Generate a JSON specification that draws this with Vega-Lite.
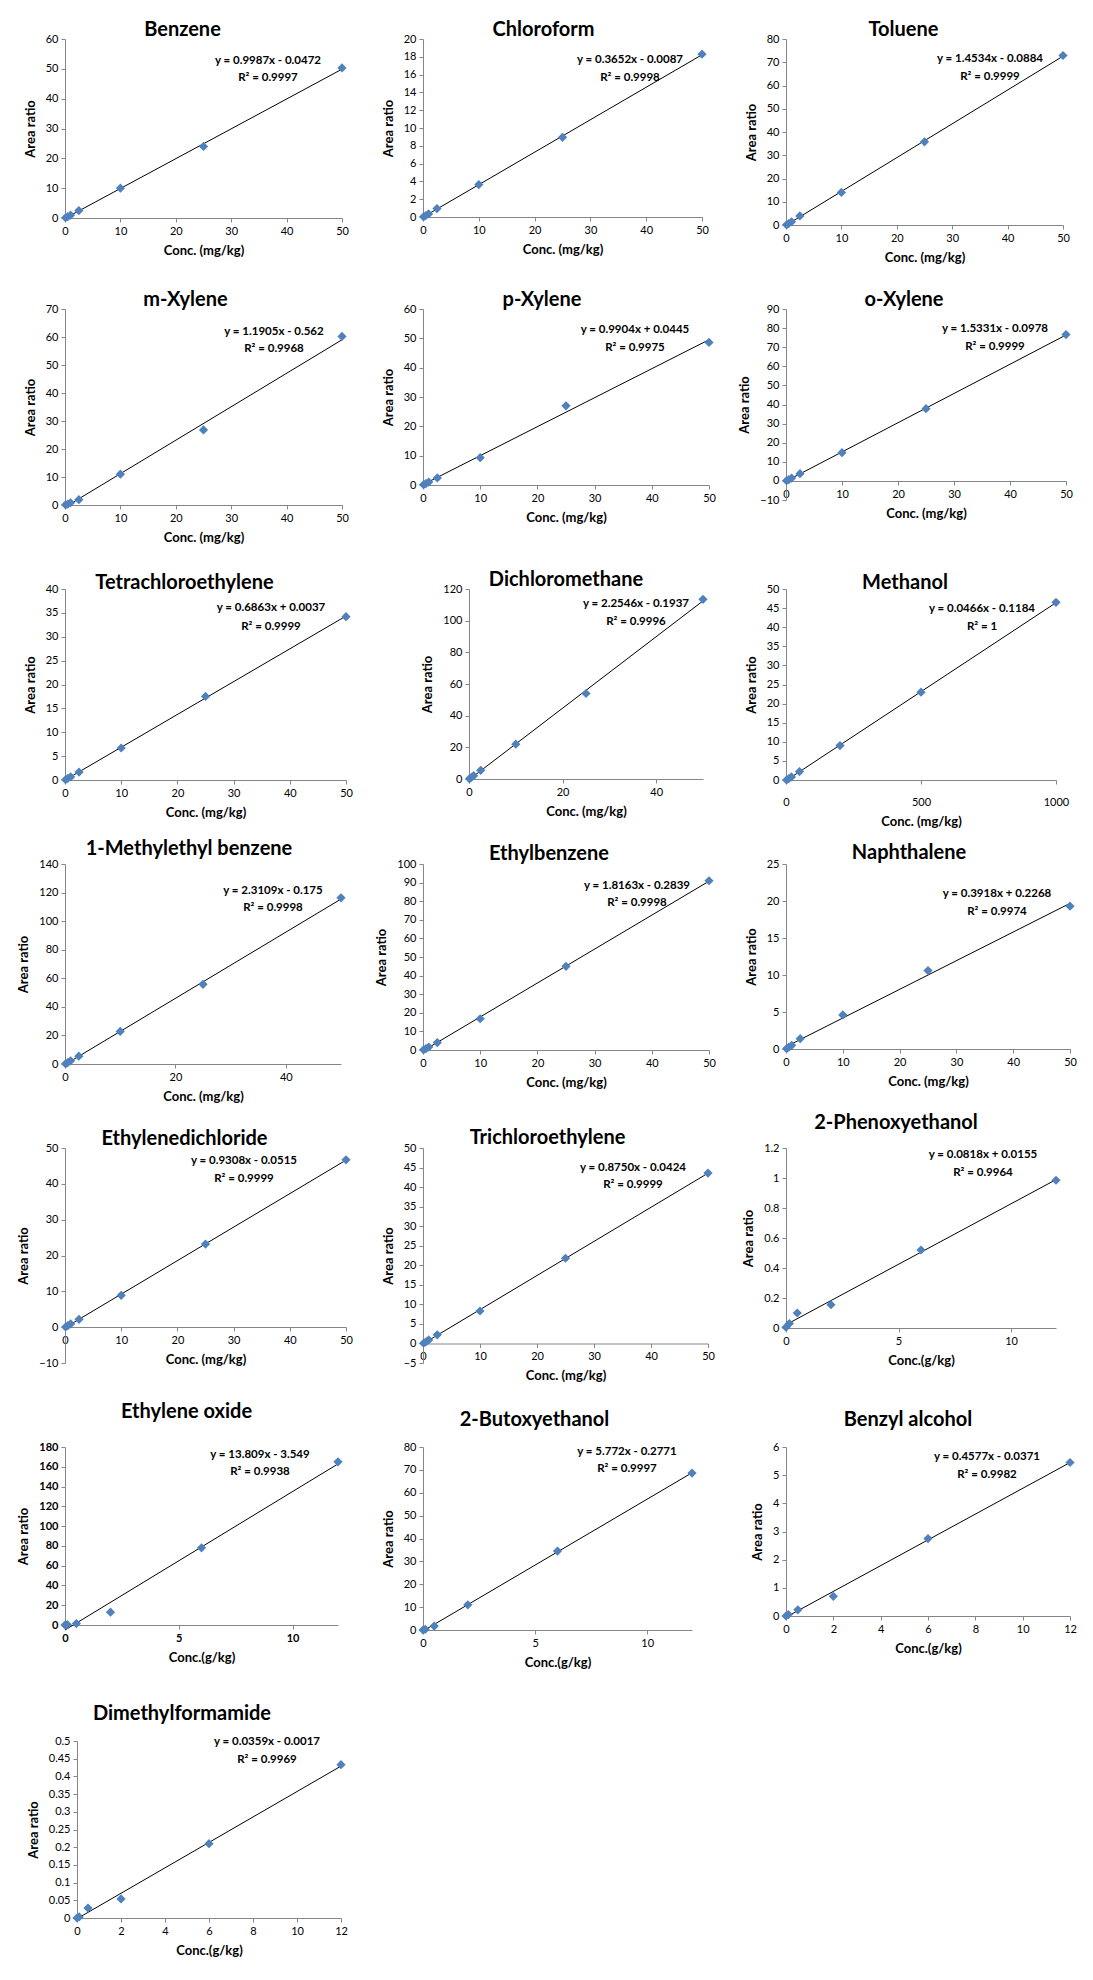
{
"$schema": "https://vega.github.io/schema/vega-lite/v6.json",
"padding": {"left": 17, "top": 20, "right": 5, "bottom": 5},
"bounds": "full",
"spacing": 35,
"datasets": {
"benzene": [{"conc":0.1,"ratio":0.08},{"conc":0.5,"ratio":0.45},{"conc":1,"ratio":0.95},{"conc":2.5,"ratio":2.5},{"conc":10,"ratio":10.0},{"conc":25,"ratio":24.0},{"conc":50,"ratio":50.3}],
"chloroform": [{"conc":0.1,"ratio":0.02},{"conc":0.5,"ratio":0.17},{"conc":1,"ratio":0.35},{"conc":2.5,"ratio":0.95},{"conc":10,"ratio":3.65},{"conc":25,"ratio":8.95},{"conc":50,"ratio":18.3}],
"toluene": [{"conc":0.1,"ratio":0.1},{"conc":0.5,"ratio":0.65},{"conc":1,"ratio":1.4},{"conc":2.5,"ratio":3.9},{"conc":10,"ratio":14.0},{"conc":25,"ratio":35.8},{"conc":50,"ratio":72.9}],
"mxylene": [{"conc":0.1,"ratio":0.05},{"conc":0.5,"ratio":0.35},{"conc":1,"ratio":0.8},{"conc":2.5,"ratio":1.9},{"conc":10,"ratio":11.0},{"conc":25,"ratio":26.8},{"conc":50,"ratio":60.2}],
"pxylene": [{"conc":0.1,"ratio":0.1},{"conc":0.5,"ratio":0.5},{"conc":1,"ratio":1.0},{"conc":2.5,"ratio":2.4},{"conc":10,"ratio":9.3},{"conc":25,"ratio":27.0},{"conc":50,"ratio":48.6}],
"oxylene": [{"conc":0.1,"ratio":0.1},{"conc":0.5,"ratio":0.7},{"conc":1,"ratio":1.5},{"conc":2.5,"ratio":3.8},{"conc":10,"ratio":14.8},{"conc":25,"ratio":37.8},{"conc":50,"ratio":76.6}],
"tetrachloro": [{"conc":0.1,"ratio":0.05},{"conc":0.5,"ratio":0.35},{"conc":1,"ratio":0.65},{"conc":2.5,"ratio":1.65},{"conc":10,"ratio":6.7},{"conc":25,"ratio":17.5},{"conc":50,"ratio":34.2}],
"dichloromethane": [{"conc":0.1,"ratio":0.1},{"conc":0.5,"ratio":1.0},{"conc":1,"ratio":2.1},{"conc":2.5,"ratio":5.5},{"conc":10,"ratio":22.0},{"conc":25,"ratio":54.0},{"conc":50,"ratio":113.5}],
"methanol": [{"conc":2,"ratio":0.0},{"conc":10,"ratio":0.35},{"conc":20,"ratio":0.8},{"conc":50,"ratio":2.2},{"conc":200,"ratio":9.0},{"conc":500,"ratio":23.0},{"conc":1000,"ratio":46.5}],
"methylethyl": [{"conc":0.1,"ratio":0.1},{"conc":0.5,"ratio":1.0},{"conc":1,"ratio":2.2},{"conc":2.5,"ratio":5.5},{"conc":10,"ratio":22.8},{"conc":25,"ratio":55.8},{"conc":50,"ratio":116.3}],
"ethylbenzene": [{"conc":0.1,"ratio":0.1},{"conc":0.5,"ratio":0.7},{"conc":1,"ratio":1.6},{"conc":2.5,"ratio":4.0},{"conc":10,"ratio":16.8},{"conc":25,"ratio":45.0},{"conc":50,"ratio":91.0}],
"naphthalene": [{"conc":0.1,"ratio":0.05},{"conc":0.5,"ratio":0.25},{"conc":1,"ratio":0.5},{"conc":2.5,"ratio":1.4},{"conc":10,"ratio":4.6},{"conc":25,"ratio":10.6},{"conc":50,"ratio":19.3}],
"ethylenedichloride": [{"conc":0.1,"ratio":0.05},{"conc":0.5,"ratio":0.4},{"conc":1,"ratio":0.9},{"conc":2.5,"ratio":2.2},{"conc":10,"ratio":8.9},{"conc":25,"ratio":23.2},{"conc":50,"ratio":46.7}],
"trichloroethylene": [{"conc":0.1,"ratio":0.05},{"conc":0.5,"ratio":0.4},{"conc":1,"ratio":0.9},{"conc":2.5,"ratio":2.2},{"conc":10,"ratio":8.3},{"conc":25,"ratio":21.8},{"conc":50,"ratio":43.6}],
"phenoxyethanol": [{"conc":0,"ratio":0.005},{"conc":0.15,"ratio":0.03},{"conc":0.5,"ratio":0.1},{"conc":2,"ratio":0.155},{"conc":6,"ratio":0.52},{"conc":12,"ratio":0.985}],
"ethyleneoxide": [{"conc":0,"ratio":0.0},{"conc":0.1,"ratio":0.4},{"conc":0.5,"ratio":1.5},{"conc":2,"ratio":13.0},{"conc":6,"ratio":78.0},{"conc":12,"ratio":165.0}],
"butoxyethanol": [{"conc":0,"ratio":0.0},{"conc":0.1,"ratio":0.3},{"conc":0.5,"ratio":1.7},{"conc":2,"ratio":11.0},{"conc":6,"ratio":34.5},{"conc":12,"ratio":68.6}],
"benzylalcohol": [{"conc":0,"ratio":0.0},{"conc":0.1,"ratio":0.05},{"conc":0.5,"ratio":0.22},{"conc":2,"ratio":0.7},{"conc":6,"ratio":2.75},{"conc":12,"ratio":5.45}],
"dmf": [{"conc":0,"ratio":0.0},{"conc":0.1,"ratio":0.003},{"conc":0.5,"ratio":0.028},{"conc":2,"ratio":0.054},{"conc":6,"ratio":0.21},{"conc":12,"ratio":0.433}]
},
"vconcat": [
{"columns": 3, "align": "each", "bounds": "flush", "spacing": {"row": 84, "column": 77},
"concat": [
{"width":277,"height":179,"title":{"text":"Benzene","dx":-21,"offset":-7},"data":{"name":"benzene"},
"encoding":{"x":{"field":"conc","type":"quantitative","scale":{"domain":[0,50],"nice":false},"axis":{"values":[0,10,20,30,40,50],"title":"Conc. (mg/kg)"}},
"y":{"field":"ratio","type":"quantitative","scale":{"domain":[0,60],"nice":false},"axis":{"values":[0,10,20,30,40,50,60],"title":"Area ratio"}}},
"layer":[
{"transform":[{"regression":"ratio","on":"conc"}],"mark":{"type":"line","color":"#000000","strokeWidth":1},"encoding":{}},
{"mark":{"type":"point","shape":"diamond","filled":true,"size":85,"color":"#4F81BD","opacity":1}},
{"transform":[{"aggregate":[{"op":"max","field":"conc","as":"conc"},{"op":"max","field":"ratio","as":"ratio"}]}],"mark":{"type":"text","dx":-74,"dy":-7,"fontWeight":"bold","fontSize":11.5},"encoding":{"text":{"value":"y = 0.9987x - 0.0472"}}},
{"transform":[{"aggregate":[{"op":"max","field":"conc","as":"conc"},{"op":"max","field":"ratio","as":"ratio"}]}],"mark":{"type":"text","dx":-74,"dy":10,"fontWeight":"bold","fontSize":11.5},"encoding":{"text":{"value":"R² = 0.9997"}}}
]},
{"width":279,"height":178,"title":{"text":"Chloroform","dx":-19,"offset":-7},"data":{"name":"chloroform"},
"encoding":{"x":{"field":"conc","type":"quantitative","scale":{"domain":[0,50],"nice":false},"axis":{"values":[0,10,20,30,40,50],"title":"Conc. (mg/kg)"}},
"y":{"field":"ratio","type":"quantitative","scale":{"domain":[0,20],"nice":false},"axis":{"values":[0,2,4,6,8,10,12,14,16,18,20],"title":"Area ratio"}}},
"layer":[
{"transform":[{"regression":"ratio","on":"conc"}],"mark":{"type":"line","color":"#000000","strokeWidth":1},"encoding":{}},
{"mark":{"type":"point","shape":"diamond","filled":true,"size":85,"color":"#4F81BD","opacity":1}},
{"transform":[{"aggregate":[{"op":"max","field":"conc","as":"conc"},{"op":"max","field":"ratio","as":"ratio"}]}],"mark":{"type":"text","dx":-72,"dy":6,"fontWeight":"bold","fontSize":11.5},"encoding":{"text":{"value":"y = 0.3652x - 0.0087"}}},
{"transform":[{"aggregate":[{"op":"max","field":"conc","as":"conc"},{"op":"max","field":"ratio","as":"ratio"}]}],"mark":{"type":"text","dx":-72,"dy":24,"fontWeight":"bold","fontSize":11.5},"encoding":{"text":{"value":"R² = 0.9998"}}}
]},
{"width":277,"height":186,"title":{"text":"Toluene","dx":-21,"offset":-7},"data":{"name":"toluene"},
"encoding":{"x":{"field":"conc","type":"quantitative","scale":{"domain":[0,50],"nice":false},"axis":{"values":[0,10,20,30,40,50],"title":"Conc. (mg/kg)"}},
"y":{"field":"ratio","type":"quantitative","scale":{"domain":[0,80],"nice":false},"axis":{"values":[0,10,20,30,40,50,60,70,80],"title":"Area ratio"}}},
"layer":[
{"transform":[{"regression":"ratio","on":"conc"}],"mark":{"type":"line","color":"#000000","strokeWidth":1},"encoding":{}},
{"mark":{"type":"point","shape":"diamond","filled":true,"size":85,"color":"#4F81BD","opacity":1}},
{"transform":[{"aggregate":[{"op":"max","field":"conc","as":"conc"},{"op":"max","field":"ratio","as":"ratio"}]}],"mark":{"type":"text","dx":-73,"dy":3,"fontWeight":"bold","fontSize":11.5},"encoding":{"text":{"value":"y = 1.4534x - 0.0884"}}},
{"transform":[{"aggregate":[{"op":"max","field":"conc","as":"conc"},{"op":"max","field":"ratio","as":"ratio"}]}],"mark":{"type":"text","dx":-73,"dy":21,"fontWeight":"bold","fontSize":11.5},"encoding":{"text":{"value":"R² = 0.9999"}}}
]},
{"width":277,"height":196,"title":{"text":"m-Xylene","dx":-18,"offset":-7},"data":{"name":"mxylene"},
"encoding":{"x":{"field":"conc","type":"quantitative","scale":{"domain":[0,50],"nice":false},"axis":{"values":[0,10,20,30,40,50],"title":"Conc. (mg/kg)"}},
"y":{"field":"ratio","type":"quantitative","scale":{"domain":[0,70],"nice":false},"axis":{"values":[0,10,20,30,40,50,60,70],"title":"Area ratio"}}},
"layer":[
{"transform":[{"regression":"ratio","on":"conc"}],"mark":{"type":"line","color":"#000000","strokeWidth":1},"encoding":{}},
{"mark":{"type":"point","shape":"diamond","filled":true,"size":85,"color":"#4F81BD","opacity":1}},
{"transform":[{"aggregate":[{"op":"max","field":"conc","as":"conc"},{"op":"max","field":"ratio","as":"ratio"}]}],"mark":{"type":"text","dx":-68,"dy":-4,"fontWeight":"bold","fontSize":11.5},"encoding":{"text":{"value":"y = 1.1905x - 0.562"}}},
{"transform":[{"aggregate":[{"op":"max","field":"conc","as":"conc"},{"op":"max","field":"ratio","as":"ratio"}]}],"mark":{"type":"text","dx":-68,"dy":13,"fontWeight":"bold","fontSize":11.5},"encoding":{"text":{"value":"R² = 0.9968"}}}
]},
{"width":286,"height":176,"title":{"text":"p-Xylene","dx":-24,"offset":-7},"data":{"name":"pxylene"},
"encoding":{"x":{"field":"conc","type":"quantitative","scale":{"domain":[0,50],"nice":false},"axis":{"values":[0,10,20,30,40,50],"title":"Conc. (mg/kg)"}},
"y":{"field":"ratio","type":"quantitative","scale":{"domain":[0,60],"nice":false},"axis":{"values":[0,10,20,30,40,50,60],"title":"Area ratio"}}},
"layer":[
{"transform":[{"regression":"ratio","on":"conc"}],"mark":{"type":"line","color":"#000000","strokeWidth":1},"encoding":{}},
{"mark":{"type":"point","shape":"diamond","filled":true,"size":85,"color":"#4F81BD","opacity":1}},
{"transform":[{"aggregate":[{"op":"max","field":"conc","as":"conc"},{"op":"max","field":"ratio","as":"ratio"}]}],"mark":{"type":"text","dx":-74,"dy":-12,"fontWeight":"bold","fontSize":11.5},"encoding":{"text":{"value":"y = 0.9904x + 0.0445"}}},
{"transform":[{"aggregate":[{"op":"max","field":"conc","as":"conc"},{"op":"max","field":"ratio","as":"ratio"}]}],"mark":{"type":"text","dx":-74,"dy":6,"fontWeight":"bold","fontSize":11.5},"encoding":{"text":{"value":"R² = 0.9975"}}}
]},
{"width":280,"height":191,"title":{"text":"o-Xylene","dx":-22,"offset":-7},"data":{"name":"oxylene"},
"encoding":{"x":{"field":"conc","type":"quantitative","scale":{"domain":[0,50],"nice":false},"axis":{"values":[0,10,20,30,40,50],"title":"Conc. (mg/kg)","offset":-19}},
"y":{"field":"ratio","type":"quantitative","scale":{"domain":[-10,90],"nice":false},"axis":{"values":[-10,0,10,20,30,40,50,60,70,80,90],"title":"Area ratio"}}},
"layer":[
{"transform":[{"regression":"ratio","on":"conc"}],"mark":{"type":"line","color":"#000000","strokeWidth":1},"encoding":{}},
{"mark":{"type":"point","shape":"diamond","filled":true,"size":85,"color":"#4F81BD","opacity":1}},
{"transform":[{"aggregate":[{"op":"max","field":"conc","as":"conc"},{"op":"max","field":"ratio","as":"ratio"}]}],"mark":{"type":"text","dx":-71,"dy":-6,"fontWeight":"bold","fontSize":11.5},"encoding":{"text":{"value":"y = 1.5331x - 0.0978"}}},
{"transform":[{"aggregate":[{"op":"max","field":"conc","as":"conc"},{"op":"max","field":"ratio","as":"ratio"}]}],"mark":{"type":"text","dx":-71,"dy":12,"fontWeight":"bold","fontSize":11.5},"encoding":{"text":{"value":"R² = 0.9999"}}}
]},
{"width":281,"height":191,"title":{"text":"Tetrachloroethylene","dx":-21,"offset":-10},"data":{"name":"tetrachloro"},
"encoding":{"x":{"field":"conc","type":"quantitative","scale":{"domain":[0,50],"nice":false},"axis":{"values":[0,10,20,30,40,50],"title":"Conc. (mg/kg)"}},
"y":{"field":"ratio","type":"quantitative","scale":{"domain":[0,40],"nice":false},"axis":{"values":[0,5,10,15,20,25,30,35,40],"title":"Area ratio"}}},
"layer":[
{"transform":[{"regression":"ratio","on":"conc"}],"mark":{"type":"line","color":"#000000","strokeWidth":1},"encoding":{}},
{"mark":{"type":"point","shape":"diamond","filled":true,"size":85,"color":"#4F81BD","opacity":1}},
{"transform":[{"aggregate":[{"op":"max","field":"conc","as":"conc"},{"op":"max","field":"ratio","as":"ratio"}]}],"mark":{"type":"text","dx":-75,"dy":-9,"fontWeight":"bold","fontSize":11.5},"encoding":{"text":{"value":"y = 0.6863x + 0.0037"}}},
{"transform":[{"aggregate":[{"op":"max","field":"conc","as":"conc"},{"op":"max","field":"ratio","as":"ratio"}]}],"mark":{"type":"text","dx":-75,"dy":10,"fontWeight":"bold","fontSize":11.5},"encoding":{"text":{"value":"R² = 0.9999"}}}
]},
{"width":280,"height":190,"title":{"text":"Dichloromethane","dx":3,"offset":-7},"data":{"name":"dichloromethane"},
"encoding":{"x":{"field":"conc","type":"quantitative","scale":{"domain":[0,50],"nice":false,"range":[46,280]},"axis":{"values":[0,20,40],"title":"Conc. (mg/kg)"}},
"y":{"field":"ratio","type":"quantitative","scale":{"domain":[0,120],"nice":false},"axis":{"values":[0,20,40,60,80,100,120],"title":"Area ratio","offset":-46}}},
"layer":[
{"transform":[{"regression":"ratio","on":"conc"}],"mark":{"type":"line","color":"#000000","strokeWidth":1},"encoding":{}},
{"mark":{"type":"point","shape":"diamond","filled":true,"size":85,"color":"#4F81BD","opacity":1}},
{"transform":[{"aggregate":[{"op":"max","field":"conc","as":"conc"},{"op":"max","field":"ratio","as":"ratio"}]}],"mark":{"type":"text","dx":-67,"dy":5,"fontWeight":"bold","fontSize":11.5},"encoding":{"text":{"value":"y = 2.2546x - 0.1937"}}},
{"transform":[{"aggregate":[{"op":"max","field":"conc","as":"conc"},{"op":"max","field":"ratio","as":"ratio"}]}],"mark":{"type":"text","dx":-67,"dy":23,"fontWeight":"bold","fontSize":11.5},"encoding":{"text":{"value":"R² = 0.9996"}}}
]},
{"width":270,"height":191,"title":{"text":"Methanol","dx":-16,"offset":-10},"data":{"name":"methanol"},
"encoding":{"x":{"field":"conc","type":"quantitative","scale":{"domain":[0,1000],"nice":false},"axis":{"values":[0,500,1000],"title":"Conc. (mg/kg)","labelPadding":12}},
"y":{"field":"ratio","type":"quantitative","scale":{"domain":[0,50],"nice":false},"axis":{"values":[0,5,10,15,20,25,30,35,40,45,50],"title":"Area ratio"}}},
"layer":[
{"transform":[{"regression":"ratio","on":"conc"}],"mark":{"type":"line","color":"#000000","strokeWidth":1},"encoding":{}},
{"mark":{"type":"point","shape":"diamond","filled":true,"size":85,"color":"#4F81BD","opacity":1}},
{"transform":[{"aggregate":[{"op":"max","field":"conc","as":"conc"},{"op":"max","field":"ratio","as":"ratio"}]}],"mark":{"type":"text","dx":-74,"dy":7,"fontWeight":"bold","fontSize":11.5},"encoding":{"text":{"value":"y = 0.0466x - 0.1184"}}},
{"transform":[{"aggregate":[{"op":"max","field":"conc","as":"conc"},{"op":"max","field":"ratio","as":"ratio"}]}],"mark":{"type":"text","dx":-74,"dy":25,"fontWeight":"bold","fontSize":11.5},"encoding":{"text":{"value":"R² = 1"}}}
]},
{"width":276,"height":200,"title":{"text":"1-Methylethyl benzene","dx":-14,"offset":-1},"data":{"name":"methylethyl"},
"encoding":{"x":{"field":"conc","type":"quantitative","scale":{"domain":[0,50],"nice":false},"axis":{"values":[0,20,40],"title":"Conc. (mg/kg)"}},
"y":{"field":"ratio","type":"quantitative","scale":{"domain":[0,140],"nice":false},"axis":{"values":[0,20,40,60,80,100,120,140],"title":"Area ratio"}}},
"layer":[
{"transform":[{"regression":"ratio","on":"conc"}],"mark":{"type":"line","color":"#000000","strokeWidth":1},"encoding":{}},
{"mark":{"type":"point","shape":"diamond","filled":true,"size":85,"color":"#4F81BD","opacity":1}},
{"transform":[{"aggregate":[{"op":"max","field":"conc","as":"conc"},{"op":"max","field":"ratio","as":"ratio"}]}],"mark":{"type":"text","dx":-68,"dy":-7,"fontWeight":"bold","fontSize":11.5},"encoding":{"text":{"value":"y = 2.3109x - 0.175"}}},
{"transform":[{"aggregate":[{"op":"max","field":"conc","as":"conc"},{"op":"max","field":"ratio","as":"ratio"}]}],"mark":{"type":"text","dx":-68,"dy":10,"fontWeight":"bold","fontSize":11.5},"encoding":{"text":{"value":"R² = 0.9998"}}}
]},
{"width":286,"height":186,"title":{"text":"Ethylbenzene","dx":-17,"offset":-6},"data":{"name":"ethylbenzene"},
"encoding":{"x":{"field":"conc","type":"quantitative","scale":{"domain":[0,50],"nice":false},"axis":{"values":[0,10,20,30,40,50],"title":"Conc. (mg/kg)"}},
"y":{"field":"ratio","type":"quantitative","scale":{"domain":[0,100],"nice":false},"axis":{"values":[0,10,20,30,40,50,60,70,80,90,100],"title":"Area ratio"}}},
"layer":[
{"transform":[{"regression":"ratio","on":"conc"}],"mark":{"type":"line","color":"#000000","strokeWidth":1},"encoding":{}},
{"mark":{"type":"point","shape":"diamond","filled":true,"size":85,"color":"#4F81BD","opacity":1}},
{"transform":[{"aggregate":[{"op":"max","field":"conc","as":"conc"},{"op":"max","field":"ratio","as":"ratio"}]}],"mark":{"type":"text","dx":-72,"dy":5,"fontWeight":"bold","fontSize":11.5},"encoding":{"text":{"value":"y = 1.8163x - 0.2839"}}},
{"transform":[{"aggregate":[{"op":"max","field":"conc","as":"conc"},{"op":"max","field":"ratio","as":"ratio"}]}],"mark":{"type":"text","dx":-72,"dy":22,"fontWeight":"bold","fontSize":11.5},"encoding":{"text":{"value":"R² = 0.9998"}}}
]},
{"width":284,"height":185,"title":{"text":"Naphthalene","dx":-19,"offset":-5},"data":{"name":"naphthalene"},
"encoding":{"x":{"field":"conc","type":"quantitative","scale":{"domain":[0,50],"nice":false},"axis":{"values":[0,10,20,30,40,50],"title":"Conc. (mg/kg)"}},
"y":{"field":"ratio","type":"quantitative","scale":{"domain":[0,25],"nice":false},"axis":{"values":[0,5,10,15,20,25],"title":"Area ratio"}}},
"layer":[
{"transform":[{"regression":"ratio","on":"conc"}],"mark":{"type":"line","color":"#000000","strokeWidth":1},"encoding":{}},
{"mark":{"type":"point","shape":"diamond","filled":true,"size":85,"color":"#4F81BD","opacity":1}},
{"transform":[{"aggregate":[{"op":"max","field":"conc","as":"conc"},{"op":"max","field":"ratio","as":"ratio"}]}],"mark":{"type":"text","dx":-73,"dy":-12,"fontWeight":"bold","fontSize":11.5},"encoding":{"text":{"value":"y = 0.3918x + 0.2268"}}},
{"transform":[{"aggregate":[{"op":"max","field":"conc","as":"conc"},{"op":"max","field":"ratio","as":"ratio"}]}],"mark":{"type":"text","dx":-73,"dy":6,"fontWeight":"bold","fontSize":11.5},"encoding":{"text":{"value":"R² = 0.9974"}}}
]},
{"width":281,"height":215,"title":{"text":"Ethylenedichloride","dx":-21,"offset":-7},"data":{"name":"ethylenedichloride"},
"encoding":{"x":{"field":"conc","type":"quantitative","scale":{"domain":[0,50],"nice":false},"axis":{"values":[0,10,20,30,40,50],"title":"Conc. (mg/kg)","offset":-36}},
"y":{"field":"ratio","type":"quantitative","scale":{"domain":[-10,50],"nice":false},"axis":{"values":[-10,0,10,20,30,40,50],"title":"Area ratio"}}},
"layer":[
{"transform":[{"regression":"ratio","on":"conc"}],"mark":{"type":"line","color":"#000000","strokeWidth":1},"encoding":{}},
{"mark":{"type":"point","shape":"diamond","filled":true,"size":85,"color":"#4F81BD","opacity":1}},
{"transform":[{"aggregate":[{"op":"max","field":"conc","as":"conc"},{"op":"max","field":"ratio","as":"ratio"}]}],"mark":{"type":"text","dx":-102,"dy":1,"fontWeight":"bold","fontSize":11.5},"encoding":{"text":{"value":"y = 0.9308x - 0.0515"}}},
{"transform":[{"aggregate":[{"op":"max","field":"conc","as":"conc"},{"op":"max","field":"ratio","as":"ratio"}]}],"mark":{"type":"text","dx":-102,"dy":19,"fontWeight":"bold","fontSize":11.5},"encoding":{"text":{"value":"R² = 0.9999"}}}
]},
{"width":285,"height":215,"title":{"text":"Trichloroethylene","dx":-18,"offset":-6},"data":{"name":"trichloroethylene"},
"encoding":{"x":{"field":"conc","type":"quantitative","scale":{"domain":[0,50],"nice":false},"axis":{"values":[0,10,20,30,40,50],"title":"Conc. (mg/kg)","offset":-19.5}},
"y":{"field":"ratio","type":"quantitative","scale":{"domain":[-5,50],"nice":false},"axis":{"values":[-5,0,5,10,15,20,25,30,35,40,45,50],"title":"Area ratio"}}},
"layer":[
{"transform":[{"regression":"ratio","on":"conc"}],"mark":{"type":"line","color":"#000000","strokeWidth":1},"encoding":{}},
{"mark":{"type":"point","shape":"diamond","filled":true,"size":85,"color":"#4F81BD","opacity":1}},
{"transform":[{"aggregate":[{"op":"max","field":"conc","as":"conc"},{"op":"max","field":"ratio","as":"ratio"}]}],"mark":{"type":"text","dx":-75,"dy":-5,"fontWeight":"bold","fontSize":11.5},"encoding":{"text":{"value":"y = 0.8750x - 0.0424"}}},
{"transform":[{"aggregate":[{"op":"max","field":"conc","as":"conc"},{"op":"max","field":"ratio","as":"ratio"}]}],"mark":{"type":"text","dx":-75,"dy":12,"fontWeight":"bold","fontSize":11.5},"encoding":{"text":{"value":"R² = 0.9999"}}}
]},
{"width":270,"height":180,"title":{"text":"2-Phenoxyethanol","dx":-25,"offset":9},"data":{"name":"phenoxyethanol"},
"encoding":{"x":{"field":"conc","type":"quantitative","scale":{"domain":[0,12],"nice":false},"axis":{"values":[0,5,10],"title":"Conc.(g/kg)"}},
"y":{"field":"ratio","type":"quantitative","scale":{"domain":[0,1.2],"nice":false},"axis":{"values":[0,0.2,0.4,0.6,0.8,1,1.2],"title":"Area ratio"}}},
"layer":[
{"transform":[{"regression":"ratio","on":"conc"}],"mark":{"type":"line","color":"#000000","strokeWidth":1},"encoding":{}},
{"mark":{"type":"point","shape":"diamond","filled":true,"size":85,"color":"#4F81BD","opacity":1}},
{"transform":[{"aggregate":[{"op":"max","field":"conc","as":"conc"},{"op":"max","field":"ratio","as":"ratio"}]}],"mark":{"type":"text","dx":-73,"dy":-25,"fontWeight":"bold","fontSize":11.5},"encoding":{"text":{"value":"y = 0.0818x + 0.0155"}}},
{"transform":[{"aggregate":[{"op":"max","field":"conc","as":"conc"},{"op":"max","field":"ratio","as":"ratio"}]}],"mark":{"type":"text","dx":-73,"dy":-7,"fontWeight":"bold","fontSize":11.5},"encoding":{"text":{"value":"R² = 0.9964"}}}
]},
{"width":273,"height":178,"title":{"text":"Ethylene oxide","dx":-15,"offset":19},"data":{"name":"ethyleneoxide"},
"encoding":{"x":{"field":"conc","type":"quantitative","scale":{"domain":[0,12],"nice":false},"axis":{"values":[0,5,10],"title":"Conc.(g/kg)","labelFontWeight":"bold"}},
"y":{"field":"ratio","type":"quantitative","scale":{"domain":[0,180],"nice":false},"axis":{"values":[0,20,40,60,80,100,120,140,160,180],"title":"Area ratio","labelFontWeight":"bold"}}},
"layer":[
{"transform":[{"regression":"ratio","on":"conc"}],"mark":{"type":"line","color":"#000000","strokeWidth":1},"encoding":{}},
{"mark":{"type":"point","shape":"diamond","filled":true,"size":85,"color":"#4F81BD","opacity":1}},
{"transform":[{"aggregate":[{"op":"max","field":"conc","as":"conc"},{"op":"max","field":"ratio","as":"ratio"}]}],"mark":{"type":"text","dx":-78,"dy":-7,"fontWeight":"bold","fontSize":11.5},"encoding":{"text":{"value":"y = 13.809x - 3.549"}}},
{"transform":[{"aggregate":[{"op":"max","field":"conc","as":"conc"},{"op":"max","field":"ratio","as":"ratio"}]}],"mark":{"type":"text","dx":-78,"dy":10,"fontWeight":"bold","fontSize":11.5},"encoding":{"text":{"value":"R² = 0.9938"}}}
]},
{"width":269,"height":183,"title":{"text":"2-Butoxyethanol","dx":-23,"offset":11},"data":{"name":"butoxyethanol"},
"encoding":{"x":{"field":"conc","type":"quantitative","scale":{"domain":[0,12],"nice":false},"axis":{"values":[0,5,10],"title":"Conc.(g/kg)"}},
"y":{"field":"ratio","type":"quantitative","scale":{"domain":[0,80],"nice":false},"axis":{"values":[0,10,20,30,40,50,60,70,80],"title":"Area ratio"}}},
"layer":[
{"transform":[{"regression":"ratio","on":"conc"}],"mark":{"type":"line","color":"#000000","strokeWidth":1},"encoding":{}},
{"mark":{"type":"point","shape":"diamond","filled":true,"size":85,"color":"#4F81BD","opacity":1}},
{"transform":[{"aggregate":[{"op":"max","field":"conc","as":"conc"},{"op":"max","field":"ratio","as":"ratio"}]}],"mark":{"type":"text","dx":-65,"dy":-21,"fontWeight":"bold","fontSize":11.5},"encoding":{"text":{"value":"y = 5.772x - 0.2771"}}},
{"transform":[{"aggregate":[{"op":"max","field":"conc","as":"conc"},{"op":"max","field":"ratio","as":"ratio"}]}],"mark":{"type":"text","dx":-65,"dy":-4,"fontWeight":"bold","fontSize":11.5},"encoding":{"text":{"value":"R² = 0.9997"}}}
]},
{"width":284,"height":169,"title":{"text":"Benzyl alcohol","dx":-20,"offset":11},"data":{"name":"benzylalcohol"},
"encoding":{"x":{"field":"conc","type":"quantitative","scale":{"domain":[0,12],"nice":false},"axis":{"values":[0,2,4,6,8,10,12],"title":"Conc.(g/kg)"}},
"y":{"field":"ratio","type":"quantitative","scale":{"domain":[0,6],"nice":false},"axis":{"values":[0,1,2,3,4,5,6],"title":"Area ratio"}}},
"layer":[
{"transform":[{"regression":"ratio","on":"conc"}],"mark":{"type":"line","color":"#000000","strokeWidth":1},"encoding":{}},
{"mark":{"type":"point","shape":"diamond","filled":true,"size":85,"color":"#4F81BD","opacity":1}},
{"transform":[{"aggregate":[{"op":"max","field":"conc","as":"conc"},{"op":"max","field":"ratio","as":"ratio"}]}],"mark":{"type":"text","dx":-83,"dy":-5,"fontWeight":"bold","fontSize":11.5},"encoding":{"text":{"value":"y = 0.4577x - 0.0371"}}},
{"transform":[{"aggregate":[{"op":"max","field":"conc","as":"conc"},{"op":"max","field":"ratio","as":"ratio"}]}],"mark":{"type":"text","dx":-83,"dy":13,"fontWeight":"bold","fontSize":11.5},"encoding":{"text":{"value":"R² = 0.9982"}}}
]}
]},
{"width":276,"height":177,"title":{"text":"Dimethylformamide","dx":-21,"offset":11},"data":{"name":"dmf"},
"encoding":{"x":{"field":"conc","type":"quantitative","scale":{"domain":[0,12],"nice":false,"range":[12,276]},"axis":{"values":[0,2,4,6,8,10,12],"title":"Conc.(g/kg)"}},
"y":{"field":"ratio","type":"quantitative","scale":{"domain":[0,0.5],"nice":false},"axis":{"values":[0,0.05,0.1,0.15,0.2,0.25,0.3,0.35,0.4,0.45,0.5],"title":"Area ratio","offset":-12}}},
"layer":[
{"transform":[{"regression":"ratio","on":"conc"}],"mark":{"type":"line","color":"#000000","strokeWidth":1},"encoding":{}},
{"mark":{"type":"point","shape":"diamond","filled":true,"size":85,"color":"#4F81BD","opacity":1}},
{"transform":[{"aggregate":[{"op":"max","field":"conc","as":"conc"},{"op":"max","field":"ratio","as":"ratio"}]}],"mark":{"type":"text","dx":-74,"dy":-23,"fontWeight":"bold","fontSize":11.5},"encoding":{"text":{"value":"y = 0.0359x - 0.0017"}}},
{"transform":[{"aggregate":[{"op":"max","field":"conc","as":"conc"},{"op":"max","field":"ratio","as":"ratio"}]}],"mark":{"type":"text","dx":-74,"dy":-5,"fontWeight":"bold","fontSize":11.5},"encoding":{"text":{"value":"R² = 0.9969"}}}
]}
],
"config": {
"font": "Lato",
"view": {"stroke": null},
"axis": {"grid": false, "domainColor": "#868686", "tickColor": "#868686", "tickSize": 4, "labelFontSize": 11, "labelColor": "#000000", "labelPadding": 3, "titleFontSize": 13, "titleFontWeight": "bold", "titleColor": "#000000", "titlePadding": 8, "format": "~r", "labelOverlap": false, "labelFlush": false},
"title": {"fontSize": 20, "fontWeight": "bold", "color": "#000000", "anchor": "middle"},
"text": {"color": "#000000", "font": "Lato"}
}
}
